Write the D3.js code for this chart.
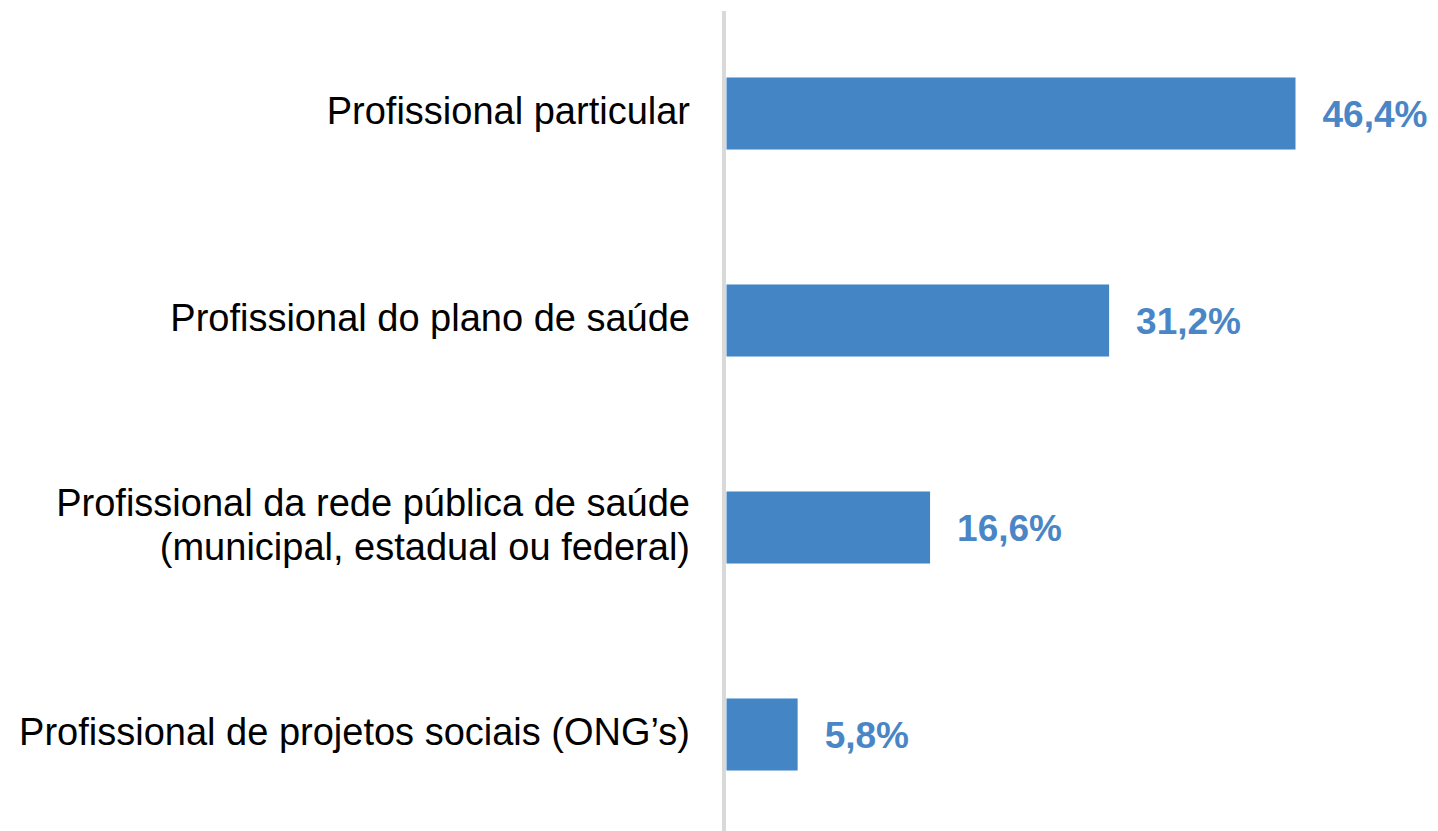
<!DOCTYPE html>
<html>
<head>
<meta charset="utf-8">
<script src="https://cdn.jsdelivr.net/npm/d3@7"></script>
<style>
  html, body { margin: 0; padding: 0; background: #fff; }
  svg { display: block; }
</style>
</head>
<body>
<svg id="chart" width="1438" height="831"></svg>
<script>
const categories = [
  ["Profissional particular"],
  ["Profissional do plano de saúde"],
  ["Profissional da rede pública de saúde", "(municipal, estadual ou federal)"],
  ["Profissional de projetos sociais (ONG’s)"]
];
const values = [46.4, 31.2, 16.6, 5.8];
const valueLabels = ["46,4%", "31,2%", "16,6%", "5,8%"];

const svg = d3.select("#chart");
const ids = d3.range(values.length);

const x = d3.scaleLinear().domain([0, 50]).range([726.5, 726.5 + 50 * 12.263]);
const y = d3.scaleBand().domain(ids).range([10, 838]).paddingInner(0.652).paddingOuter(0.326);

// axis line
svg.append("line")
  .attr("x1", 724).attr("x2", 724)
  .attr("y1", 11).attr("y2", 831)
  .attr("stroke", "#d9d9d9").attr("stroke-width", 4);

// bars
svg.selectAll("rect.bar").data(ids).join("rect")
  .attr("class", "bar")
  .attr("x", x(0))
  .attr("y", i => y(i))
  .attr("width", i => x(values[i]) - x(0))
  .attr("height", y.bandwidth())
  .attr("fill", "#4485c5");

// value labels
svg.selectAll("text.val").data(ids).join("text")
  .attr("class", "val")
  .attr("x", i => x(values[i]) + 27)
  .attr("y", i => y(i) + y.bandwidth() / 2)
  .attr("dy", "0.36em")
  .attr("font-family", "Liberation Sans, Arial, sans-serif")
  .attr("font-weight", "bold")
  .attr("font-size", 37)
  .attr("fill", "#4a86c6")
  .text(i => valueLabels[i]);

// category labels
const lineH = 44;
const cat = svg.selectAll("text.cat").data(ids).join("text")
  .attr("class", "cat")
  .attr("text-anchor", "end")
  .attr("font-family", "Liberation Sans, Arial, sans-serif")
  .attr("font-size", 38)
  .attr("fill", "#000");
cat.each(function(i) {
  const lines = categories[i];
  const cy = y(i) + y.bandwidth() / 2;
  const t = d3.select(this);
  lines.forEach((ln, k) => {
    t.append("tspan")
      .attr("x", 690)
      .attr("y", cy + (k - (lines.length - 1) / 2) * lineH)
      .attr("dy", "0.28em")
      .text(ln);
  });
});
</script>
</body>
</html>
